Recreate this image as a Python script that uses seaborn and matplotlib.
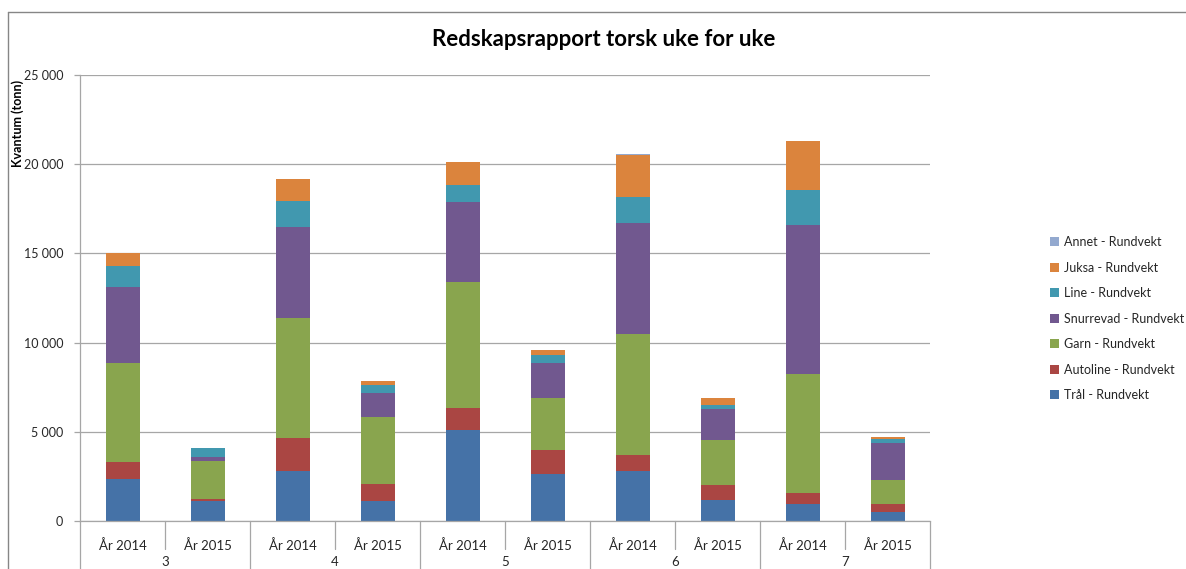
import numpy as np
import pandas as pd
import matplotlib
matplotlib.use("Agg")
import matplotlib.pyplot as plt
from matplotlib.lines import Line2D
from matplotlib.ticker import FuncFormatter
import seaborn as sns

# -------------------------------------------------------
# DATA (tonn)
# -------------------------------------------------------

weeks = ["3", "4", "5", "6", "7"]
years = ["År 2014", "År 2015"]

tral      = [2380, 1110, 2810, 1130, 5090, 2660, 2780, 1200,  930,  490]
autoline  = [ 950,  150, 1830,  950, 1230, 1330,  900,  820,  620,  490]
garn      = [5510, 2090, 6730, 3730, 7090, 2930, 6780, 2540, 6710, 1330]
snurrevad = [4260,  250, 5120, 1370, 4460, 1960, 6260, 1740, 8310, 2090]
line      = [1220,  480, 1460,  450,  950,  410, 1440,  210, 1960,  220]
juksa     = [ 710,   30, 1230,  225, 1310,  280, 2380,  370, 2760,  110]
annet     = [   5,    5,    5,    5,    5,    5,    5,    5,    5,    5]

series_names = ["Trål - Rundvekt", "Autoline - Rundvekt", "Garn - Rundvekt",
                "Snurrevad - Rundvekt", "Line - Rundvekt", "Juksa - Rundvekt",
                "Annet - Rundvekt"]
series_values = [tral, autoline, garn, snurrevad, line, juksa, annet]
series_colors = ["#4572A7", "#AA4643", "#89A54E", "#71588F", "#4198AF",
                 "#DB843D", "#93A9CF"]

categories = [f"{w}|{y}" for w in weeks for y in years]

# -------------------------------------------------------
# STYLE
# -------------------------------------------------------

sns.set_theme(style="white")
plt.rcParams["font.family"] = ["Lato", "DejaVu Sans"]

fig = plt.figure(figsize=(11.86, 5.69), dpi=100)
ax = fig.add_axes([80 / 1186, 48 / 569, 850 / 1186, 446 / 569])

# stacked bars: draw cumulative totals from the top series down
cum = np.cumsum(np.array(series_values), axis=0)
for i in range(len(series_names) - 1, -1, -1):
    df = pd.DataFrame({"kategori": categories, "kvantum": cum[i]})
    sns.barplot(data=df, x="kategori", y="kvantum", order=categories,
                color=series_colors[i], saturation=1, width=0.4,
                linewidth=0, errorbar=None, label=series_names[i], ax=ax)

handles, labels = ax.get_legend_handles_labels()
if ax.get_legend() is not None:
    ax.get_legend().remove()

# -------------------------------------------------------
# AXES
# -------------------------------------------------------

ax.set_xlim(-0.5, len(categories) - 0.5)
ax.set_ylim(0, 25000)
ax.set_yticks(range(0, 25001, 5000))
ax.yaxis.set_major_formatter(FuncFormatter(lambda v, p: f"{int(v):,}".replace(",", " ")))
ax.yaxis.grid(True, color="#A6A6A6", linewidth=0.9)
ax.set_axisbelow(True)
ax.set_xlabel("")
ax.set_ylabel("")

for s in ["top", "right"]:
    ax.spines[s].set_visible(False)
for s in ["left", "bottom"]:
    ax.spines[s].set_color("#A6A6A6")
    ax.spines[s].set_linewidth(0.9)

ax.set_xticks(range(len(categories)))
ax.set_xticklabels([y for w in weeks for y in years], fontsize=9.5, color="#262626")
ax.tick_params(axis="x", length=0, pad=13)
ax.tick_params(axis="y", which="major", direction="out", length=4, width=0.9,
               color="#A6A6A6", labelsize=9, labelcolor="#262626", pad=8, left=True)

# category separators and week labels below the axis
trans = ax.get_xaxis_transform()
for k in range(len(categories) + 1):
    xk = k - 0.5
    y_end = -0.12 if k % 2 == 0 else -0.063
    ax.plot([xk, xk], [0, y_end], color="#A6A6A6", lw=0.9,
            transform=trans, clip_on=False)
for j, w in enumerate(weeks):
    ax.text(2 * j + 0.5, -0.093, w, transform=trans, ha="center", va="center",
            fontsize=9.5, color="#262626", clip_on=False)

# -------------------------------------------------------
# TITLE, LABEL, LEGEND
# -------------------------------------------------------

fig.text(604 / 1186, 1 - 40 / 569, "Redskapsrapport torsk uke for uke",
         ha="center", va="center", fontsize=16, fontweight="bold", color="black")
fig.text(18 / 1186, 1 - 123 / 569, "Kvantum (tonn)", rotation=90,
         ha="center", va="center", fontsize=9, fontweight="bold", color="black")

leg = fig.legend(handles, labels, loc="upper left",
                 bbox_to_anchor=(1045 / 1186, 1 - 231 / 569),
                 frameon=False, fontsize=9, handlelength=0.7, handleheight=0.7,
                 handletextpad=0.4, labelspacing=1.08, borderaxespad=0)
for t in leg.get_texts():
    t.set_color("#262626")

# chart area border (cropped on the right and bottom)
fig.add_artist(Line2D([8 / 1186, 8 / 1186], [0, 1 - 12 / 569],
                      transform=fig.transFigure, color="#868686", lw=1))
fig.add_artist(Line2D([8 / 1186, 1], [1 - 12 / 569, 1 - 12 / 569],
                      transform=fig.transFigure, color="#868686", lw=1))

fig.savefig("out.png", dpi=100)
